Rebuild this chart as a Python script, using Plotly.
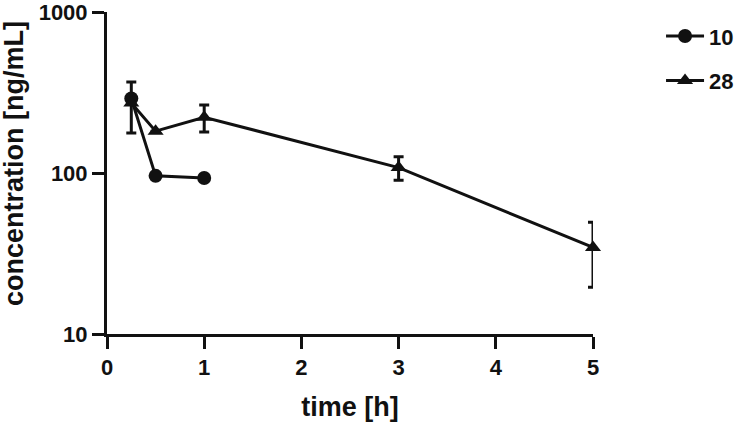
import plotly.graph_objects as go

# Data
t10 = [0.25, 0.5, 1]
c10 = [290, 96, 93]

t28 = [0.25, 0.5, 1, 3, 5]
c28 = [272, 182, 222, 108, 34.5]
e28 = [95, 0, 42, 18, 15]

x_ticks = [0, 1, 2, 3, 4, 5]
y_ticks = [10, 100, 1000]
y_tick_text = ["10", "100", "1000"]

BLACK = "#111111"
FONT = "Liberation Sans"

fig = go.Figure()
fig.add_trace(go.Scatter(
    x=t10, y=c10, name="10", mode="lines+markers", legendgroup="a",
    line=dict(color=BLACK, width=3),
    marker=dict(symbol="circle", size=14, color=BLACK),
    cliponaxis=False,
))
fig.add_trace(go.Scatter(
    x=t28, y=c28, name="28", mode="lines+markers", legendgroup="b",
    line=dict(color=BLACK, width=3),
    marker=dict(symbol="triangle-up", size=14, color=BLACK),
    error_y=dict(type="data", array=e28, visible=True, color=BLACK,
                 thickness=3, width=5),
    cliponaxis=False,
))

fig.update_layout(
    width=750, height=422,
    margin=dict(l=107, r=157, t=12, b=88, autoexpand=False),
    paper_bgcolor="white", plot_bgcolor="white",
    font=dict(family=FONT, color=BLACK, size=22, weight="bold"),
    showlegend=True,
    legend=dict(x=1.14, xanchor="left", y=0.99, yanchor="top",
                font=dict(size=22, family=FONT, weight="bold"),
                tracegroupgap=13, itemwidth=38, bgcolor="rgba(0,0,0,0)"),
    xaxis=dict(
        range=[0, 5], tickvals=x_ticks, showline=True, linewidth=3,
        linecolor=BLACK, ticks="outside", ticklen=12, tickwidth=3,
        tickcolor=BLACK, showgrid=False, zeroline=False, automargin=False,
        ticklabeloverflow="allow",
        tickfont=dict(size=22, family=FONT, weight="bold"),
        title=dict(text="time [h]", font=dict(size=27, family=FONT, weight="bold"),
                   standoff=20),
    ),
    yaxis=dict(
        type="log", range=[1, 3], tickvals=y_ticks, ticktext=y_tick_text,
        showline=True, linewidth=3, linecolor=BLACK, ticks="outside",
        ticklen=12, tickwidth=3, tickcolor=BLACK, showgrid=False,
        zeroline=False, automargin=False, ticklabeloverflow="allow",
        tickfont=dict(size=22, family=FONT, weight="bold"),
    ),
    annotations=[dict(
        text="concentration [ng/mL]", textangle=-90, showarrow=False,
        xref="paper", yref="paper", x=-0.19, y=0.53,
        xanchor="center", yanchor="middle",
        font=dict(size=27, family=FONT, weight="bold", color=BLACK),
    )],
)

fig.write_html("out.html", config={"displayModeBar": False},
               post_script="document.body.style.margin='0';")
